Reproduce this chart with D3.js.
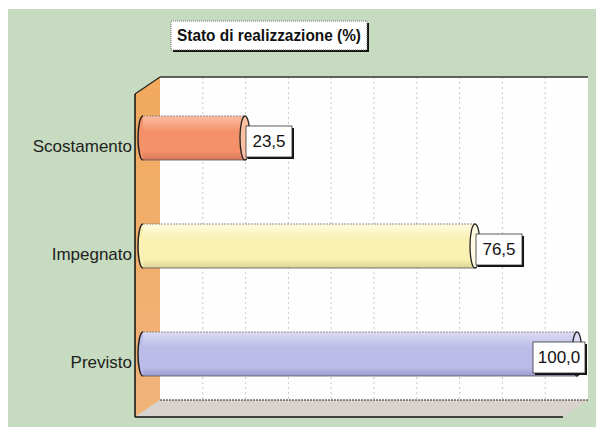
<!DOCTYPE html>
<html>
<head>
<meta charset="utf-8">
<script src="https://cdn.jsdelivr.net/npm/d3@7"></script>
<style>
  body { margin: 0; background: #fff; }
  svg { display: block; font-family: "Liberation Sans", Arial, sans-serif; }
</style>
</head>
<body>
<div id="chart"></div>
<script>
// data
var categories = ["Scostamento", "Impegnato", "Previsto"];
var values = [23.5, 76.5, 100.0];
var gridTicks = [0, 10, 20, 30, 40, 50, 60, 70, 80, 90, 100];
var title = "Stato di realizzazione (%)";

// bar colours: top light / main / bottom dark
var barColours = [
  ["#fbbfa3", "#f4916b", "#d6785a"],
  ["#fffbe0", "#f9f0b2", "#ddd396"],
  ["#dcdcf4", "#bcbce8", "#9a9acc"]
];

var width = 596, height = 427;
var depth = {dx: 25, dy: -17};   // front -> back offset

var svg = d3.select("#chart").append("svg")
  .attr("width", width)
  .attr("height", height);

var defs = svg.append("defs");

// background
svg.append("rect").attr("width", width).attr("height", height).attr("fill", "#fff");
svg.append("rect")
  .attr("x", 8).attr("y", 9)
  .attr("width", width - 8).attr("height", height - 9)
  .attr("fill", "#c6dbbf");

// title box
var tb = {x: 171, y: 21, w: 196, h: 29};
svg.append("rect")
  .attr("x", tb.x + 2).attr("y", tb.y + 2)
  .attr("width", tb.w).attr("height", tb.h)
  .attr("fill", "#111");
svg.append("rect")
  .attr("x", tb.x).attr("y", tb.y)
  .attr("width", tb.w).attr("height", tb.h)
  .attr("fill", "#fff")
  .attr("stroke", "#777")
  .attr("stroke-dasharray", "1,1");
svg.append("text")
  .attr("x", tb.x + tb.w / 2)
  .attr("y", tb.y + tb.h / 2 + 1)
  .attr("text-anchor", "middle")
  .attr("dominant-baseline", "middle")
  .attr("font-weight", "bold")
  .attr("font-size", "17px")
  .attr("fill", "#111")
  .attr("textLength", 184)
  .attr("lengthAdjust", "spacingAndGlyphs")
  .text(title);

// scales
var backTop = 77, backBottom = 400;
var xBack = d3.scaleLinear().domain([0, 100]).range([160, 588]);
var xFront = d3.scaleLinear().domain([0, 100]).range([143, 577]);
var y = d3.scalePoint().domain(categories).range([138, 354]);

var bx0 = xBack(0), bx1 = xBack(100);
var fx0 = bx0 - depth.dx, fBottom = backBottom - depth.dy, fTop = backTop - depth.dy;

// back wall
svg.append("rect")
  .attr("x", bx0).attr("y", backTop)
  .attr("width", bx1 - bx0).attr("height", backBottom - backTop)
  .attr("fill", "#fefefe");

// gridlines on back wall
svg.append("g").selectAll("line")
  .data(gridTicks.slice(1, -1))
  .enter().append("line")
  .attr("x1", function (d) { return xBack(d); })
  .attr("x2", function (d) { return xBack(d); })
  .attr("y1", backTop).attr("y2", backBottom)
  .attr("stroke", "#c8c8c8")
  .attr("stroke-width", 1)
  .attr("stroke-dasharray", "2,3");

// side wall
var sideGrad = defs.append("linearGradient").attr("id", "side")
  .attr("x1", 0).attr("y1", 0).attr("x2", 0).attr("y2", 1);
sideGrad.append("stop").attr("offset", "0%").attr("stop-color", "#f2a95e");
sideGrad.append("stop").attr("offset", "100%").attr("stop-color", "#f0b47a");
svg.append("polygon")
  .attr("points", [[fx0, fTop], [bx0, backTop], [bx0, backBottom], [fx0, fBottom]].join(" "))
  .attr("fill", "url(#side)");

// floor
svg.append("polygon")
  .attr("points", [[fx0, fBottom], [bx0, backBottom], [bx1, backBottom], [bx1 - depth.dx, fBottom]].join(" "))
  .attr("fill", "#d9d3cf");

// frame lines
svg.append("line")
  .attr("x1", bx0).attr("x2", bx1).attr("y1", backTop).attr("y2", backTop)
  .attr("stroke", "#333").attr("stroke-width", 1.5);
svg.append("line")
  .attr("x1", bx0).attr("x2", bx1).attr("y1", backBottom).attr("y2", backBottom)
  .attr("stroke", "#222").attr("stroke-dasharray", "2,1");
svg.append("line")
  .attr("x1", fx0).attr("x2", bx0).attr("y1", fTop).attr("y2", backTop)
  .attr("stroke", "#222").attr("stroke-width", 1.2);
svg.append("line")
  .attr("x1", fx0).attr("x2", fx0).attr("y1", fTop).attr("y2", fBottom)
  .attr("stroke", "#111").attr("stroke-width", 1.5);
svg.append("line")
  .attr("x1", fx0).attr("x2", bx1 - depth.dx).attr("y1", fBottom).attr("y2", fBottom)
  .attr("stroke", "#111").attr("stroke-width", 1.5);

// cylinders
var barH = 44, rx = 5;
categories.forEach(function (c, i) {
  var g = defs.append("linearGradient").attr("id", "bar" + i)
    .attr("x1", 0).attr("y1", 0).attr("x2", 0).attr("y2", 1);
  g.append("stop").attr("offset", "0%").attr("stop-color", barColours[i][0]);
  g.append("stop").attr("offset", "35%").attr("stop-color", barColours[i][1]);
  g.append("stop").attr("offset", "80%").attr("stop-color", barColours[i][1]);
  g.append("stop").attr("offset", "100%").attr("stop-color", barColours[i][2]);
});

var bars = svg.append("g").selectAll("g")
  .data(values)
  .enter().append("g");

bars.append("rect")
  .attr("x", xFront(0))
  .attr("y", function (d, i) { return y(categories[i]) - barH / 2; })
  .attr("width", function (d) { return xFront(d) - xFront(0); })
  .attr("height", barH)
  .attr("fill", function (d, i) { return "url(#bar" + i + ")"; });

bars.append("line")
  .attr("x1", xFront(0)).attr("x2", function (d) { return xFront(d); })
  .attr("y1", function (d, i) { return y(categories[i]) - barH / 2; })
  .attr("y2", function (d, i) { return y(categories[i]) - barH / 2; })
  .attr("stroke", "#777").attr("stroke-width", 0.8).attr("stroke-dasharray", "2,1");
bars.append("line")
  .attr("x1", xFront(0)).attr("x2", function (d) { return xFront(d); })
  .attr("y1", function (d, i) { return y(categories[i]) + barH / 2; })
  .attr("y2", function (d, i) { return y(categories[i]) + barH / 2; })
  .attr("stroke", "#555").attr("stroke-width", 0.8);

// left end
bars.append("path")
  .attr("d", function (d, i) {
    var cy = y(categories[i]), x0 = xFront(0);
    return "M" + x0 + "," + (cy - barH / 2) +
      " A" + rx + "," + (barH / 2) + " 0 0 0 " + x0 + "," + (cy + barH / 2);
  })
  .attr("fill", function (d, i) { return barColours[i][1]; })
  .attr("stroke", "#222").attr("stroke-width", 1.5);

// right cap
bars.append("ellipse")
  .attr("cx", function (d) { return xFront(d); })
  .attr("cy", function (d, i) { return y(categories[i]); })
  .attr("rx", rx).attr("ry", barH / 2)
  .attr("fill", function (d, i) { return barColours[i][0]; })
  .attr("stroke", "#222").attr("stroke-width", 1.3);

// category labels
svg.append("g").selectAll("text")
  .data(categories)
  .enter().append("text")
  .attr("x", 132)
  .attr("y", function (d) { return y(d) + 10; })
  .attr("text-anchor", "end")
  .attr("dominant-baseline", "middle")
  .attr("font-size", "17px")
  .attr("fill", "#222")
  .text(function (d) { return d; });

// value labels
var fmt = function (v) { return d3.format(".1f")(v).replace(".", ","); };
var labels = svg.append("g").selectAll("g")
  .data(values)
  .enter().append("g")
  .attr("transform", function (d, i) {
    var w = fmt(d).length > 4 ? 52 : 46;
    var lx = Math.min(xFront(d) + 1, 585 - w);
    return "translate(" + lx + "," + (y(categories[i]) - 12) + ")";
  });
labels.append("rect")
  .attr("x", 2).attr("y", 2)
  .attr("width", function (d) { return fmt(d).length > 4 ? 52 : 46; })
  .attr("height", 31)
  .attr("fill", "#111");
labels.append("rect")
  .attr("width", function (d) { return fmt(d).length > 4 ? 52 : 46; })
  .attr("height", 31)
  .attr("fill", "#fff")
  .attr("stroke", "#333").attr("stroke-width", 0.8);
labels.append("text")
  .attr("x", function (d) { return (fmt(d).length > 4 ? 52 : 46) / 2; })
  .attr("y", 17)
  .attr("text-anchor", "middle")
  .attr("dominant-baseline", "middle")
  .attr("font-size", "17px")
  .attr("fill", "#111")
  .text(fmt);
</script>
</body>
</html>
